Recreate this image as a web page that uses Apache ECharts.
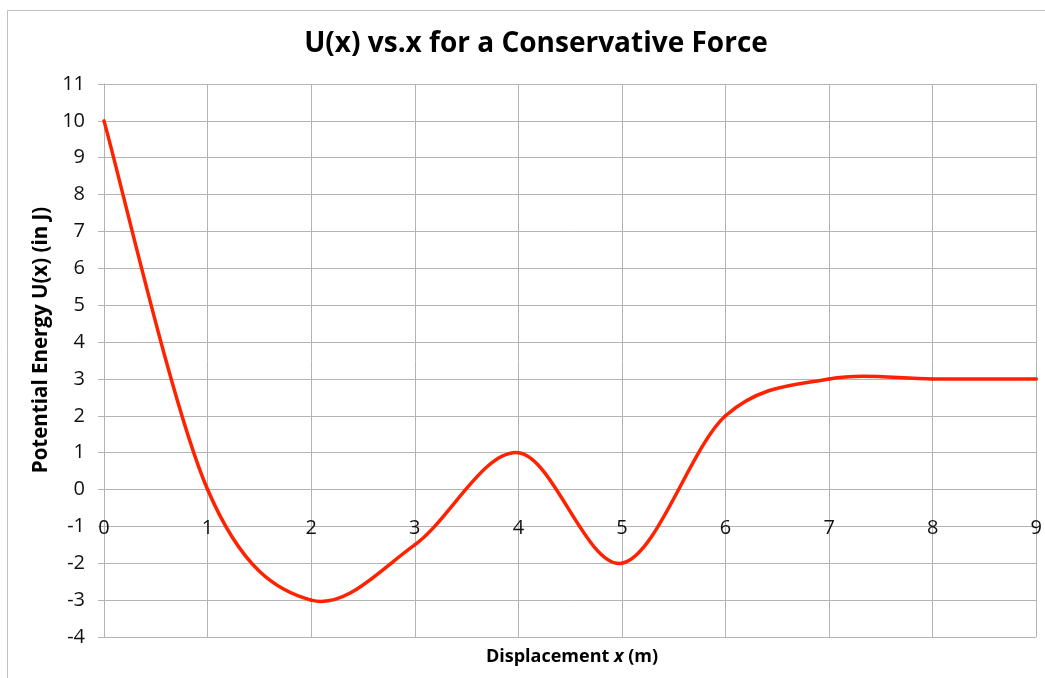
<!DOCTYPE html>
<html>
<head>
<meta charset="utf-8">
<script src="https://cdn.jsdelivr.net/npm/echarts@6/dist/echarts.min.js"></script>
<style>
  html, body { margin: 0; padding: 0; background: #fff; }
  #chart { width: 1045px; height: 678px; }
</style>
</head>
<body>
<div id="chart"></div>
<script>
const titleText = 'U(x) vs.x for a Conservative Force';
const xLabel = 'Displacement';
const yLabel = 'Potential Energy U(x) (in J)';
const xValues = [0, 1, 2, 3, 4, 5, 6, 7, 8, 9];
const uValues = [10, 0, -3, -1.5, 1, -2, 2, 3, 3, 3];
const xMin = 0, xMax = 9, yMin = -4, yMax = 11;

const FONT = '"Open Sans", Lato, "Liberation Sans", sans-serif';
const gridColor = '#b3b3b3';
const lineColor = '#ff2200';

const gridTop = 84, gridBottom = 41, H = 678;
const unitPx = (H - gridTop - gridBottom) / (yMax - yMin);
const xAxisOffset = -(0 - yMin) * unitPx; // move the x axis up to U = 0

// Smooth curve through the data points (Excel-style Catmull-Rom), positioned through the axes
function renderCurve(params, api) {
  const i = params.dataIndex;
  const n = xValues.length;
  if (i >= n - 1) return null;
  const P = j => {
    const k = Math.max(0, Math.min(n - 1, j));
    return api.coord([xValues[k], uValues[k]]);
  };
  const p0 = P(i - 1), p1 = P(i), p2 = P(i + 1), p3 = P(i + 2);
  return {
    type: 'bezierCurve',
    shape: {
      x1: p1[0], y1: p1[1], x2: p2[0], y2: p2[1],
      cpx1: p1[0] + (p2[0] - p0[0]) / 6, cpy1: p1[1] + (p2[1] - p0[1]) / 6,
      cpx2: p2[0] - (p3[0] - p1[0]) / 6, cpy2: p2[1] - (p3[1] - p1[1]) / 6
    },
    style: { stroke: lineColor, lineWidth: 3.5, fill: null, lineCap: 'round' }
  };
}

const chart = echarts.init(document.getElementById('chart'), null, { renderer: 'canvas' });
chart.setOption({
  backgroundColor: '#ffffff',
  animation: false,
  title: {
    text: titleText,
    left: 531,
    top: 25,
    textAlign: 'center',
    textStyle: { fontFamily: FONT, fontWeight: 'bold', fontSize: 28, color: '#000' }
  },
  grid: { left: 104, right: 7, top: gridTop, bottom: gridBottom, containLabel: false },
  xAxis: {
    type: 'value',
    min: xMin, max: xMax, interval: 1,
    position: 'bottom',
    offset: xAxisOffset,
    axisLine: { show: true, onZero: false, lineStyle: { color: gridColor, width: 1 } },
    axisTick: { show: false },
    axisLabel: { fontFamily: FONT, fontSize: 20, color: '#111', margin: 29, showMinLabel: true, showMaxLabel: true },
    splitLine: { show: true, lineStyle: { color: gridColor, width: 1 } }
  },
  yAxis: {
    type: 'value',
    min: yMin, max: yMax, interval: 1,
    axisLine: { show: true, onZero: false, lineStyle: { color: gridColor, width: 1 } },
    axisTick: { show: true, length: 6, lineStyle: { color: gridColor } },
    axisLabel: { fontFamily: FONT, fontSize: 20, color: '#111', margin: 19 },
    splitLine: { show: true, lineStyle: { color: gridColor, width: 1 } }
  },
  graphic: [
    {
      type: 'rect',
      shape: { x: 7.5, y: 10.5, width: 1200, height: 900 },
      style: { fill: 'none', stroke: '#c0c0c0', lineWidth: 1 },
      silent: true, z: -1
    },
    {
      type: 'text',
      x: 41, y: 340,
      rotation: Math.PI / 2,
      style: {
        text: yLabel,
        font: 'bold 20.5px ' + FONT,
        fill: '#000',
        textAlign: 'center',
        textVerticalAlign: 'middle'
      }
    },
    {
      type: 'text',
      x: 572, y: 657,
      style: {
        text: '{b|' + xLabel + ' }{i|x}{b| (m)}',
        textAlign: 'center',
        textVerticalAlign: 'middle',
        rich: {
          b: { fontFamily: FONT, fontWeight: 'bold', fontSize: 18, fill: '#000', color: '#000' },
          i: { fontFamily: FONT, fontWeight: 'bold', fontStyle: 'italic', fontSize: 18, fill: '#000', color: '#000' }
        }
      }
    }
  ],
  series: [{
    type: 'custom',
    renderItem: renderCurve,
    encode: { x: 0, y: 1 },
    data: xValues.map((x, i) => [x, uValues[i]]),
    clip: false,
    z: 5
  }]
});
</script>
</body>
</html>
